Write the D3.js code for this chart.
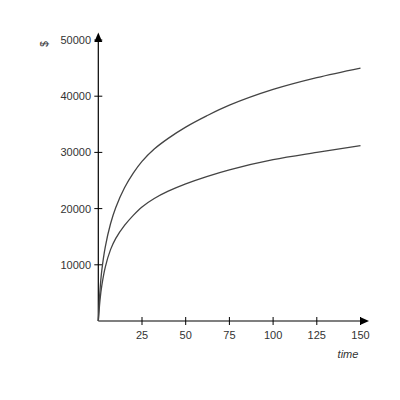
<!DOCTYPE html>
<html>
<head>
<meta charset="utf-8">
<script src="https://cdn.jsdelivr.net/npm/d3@7"></script>
<style>
  body { margin: 0; background: #fff; }
  svg { display: block; font-family: "Liberation Sans", Arial, sans-serif; }
</style>
</head>
<body>
<div id="chart"></div>
<script>
// values
const times = [0, 1, 2, 4, 7, 10, 15, 20, 25, 32, 40, 50, 62, 75, 100, 125, 150];
const upper = [0, 5600, 9000, 13200, 17300, 20200, 23700, 26300, 28400, 30600, 32500, 34500, 36500, 38400, 41200, 43300, 45000];
const lower = [0, 3800, 6300, 9600, 12700, 14700, 17000, 18800, 20300, 21800, 23100, 24400, 25700, 26900, 28700, 30000, 31200];
const xTicks = [25, 50, 75, 100, 125, 150];
const yTicks = [10000, 20000, 30000, 40000, 50000];

const w = 400, h = 400;
const svg = d3.select('#chart').append('svg').attr('width', w).attr('height', h);

const x = d3.scaleLinear().domain([0, 150]).range([98.3, 360.5]);
const y = d3.scaleLinear().domain([0, 50000]).range([321, 40]);

const ax = '#000';

// axes lines
svg.append('line')
  .attr('x1', x(0)).attr('x2', 362).attr('y1', y(0)).attr('y2', y(0))
  .attr('stroke', ax).attr('stroke-width', 1.2);
svg.append('line')
  .attr('x1', x(0)).attr('x2', x(0)).attr('y1', y(0)).attr('y2', 40)
  .attr('stroke', ax).attr('stroke-width', 1.2);

// arrowheads
svg.append('path')
  .attr('d', `M${x(0)},32.5 L${x(0) - 4},42 L${x(0) + 4},42 Z`).attr('fill', ax);
svg.append('path')
  .attr('d', `M369,${y(0)} L360,${y(0) - 4} L360,${y(0) + 4} Z`).attr('fill', ax);

// ticks
svg.selectAll('.xt').data(xTicks).join('line')
  .attr('x1', d => x(d)).attr('x2', d => x(d))
  .attr('y1', y(0) - 4).attr('y2', y(0) + 4)
  .attr('stroke', ax).attr('stroke-width', 1);
svg.selectAll('.xl').data(xTicks).join('text')
  .attr('x', d => x(d)).attr('y', y(0) + 18)
  .attr('text-anchor', 'middle').attr('font-size', 11).attr('fill', '#333')
  .text(d => d);

svg.selectAll('.yt').data(yTicks).join('line')
  .attr('x1', x(0) - 4).attr('x2', x(0) + 4)
  .attr('y1', d => y(d)).attr('y2', d => y(d))
  .attr('stroke', ax).attr('stroke-width', 1);
svg.selectAll('.yl').data(yTicks).join('text')
  .attr('x', 91).attr('y', d => y(d) + 4)
  .attr('text-anchor', 'end').attr('font-size', 11).attr('fill', '#333')
  .text(d => d);

// axis titles
svg.append('text')
  .attr('transform', 'translate(48,44) rotate(-90)')
  .attr('text-anchor', 'middle').attr('font-size', 10).attr('fill', '#333')
  .text('$');
svg.append('text')
  .attr('x', 348).attr('y', 358)
  .attr('text-anchor', 'middle').attr('font-size', 11).attr('font-style', 'italic').attr('fill', '#333')
  .text('time');

// curves
const line = d3.line().x(d => x(d[0])).y(d => y(d[1])).curve(d3.curveCatmullRom.alpha(0.5));
[upper, lower].forEach(s => {
  svg.append('path')
    .datum(times.map((t, i) => [t, s[i]]))
    .attr('d', line)
    .attr('fill', 'none').attr('stroke', '#444').attr('stroke-width', 1.3);
});
</script>
</body>
</html>
